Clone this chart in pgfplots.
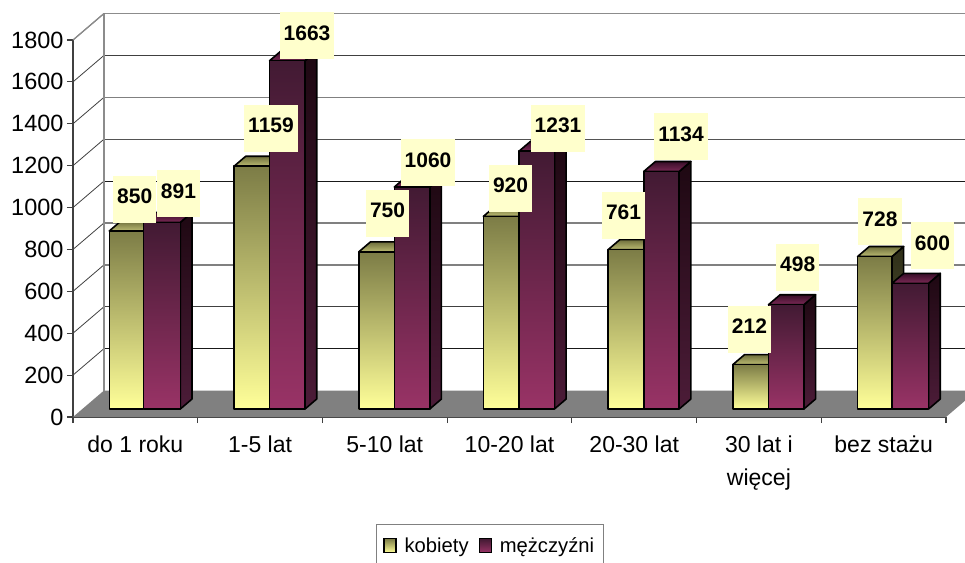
\documentclass[border=0pt]{standalone}
\usepackage{fontspec}
\setmainfont{Liberation Sans}
\usepackage{pgfplots}
\pgfplotsset{compat=1.18}
\definecolor{yfb}{HTML}{FFFF99}
\definecolor{yft}{HTML}{7C7C46}
\definecolor{ysb}{HTML}{66663D}
\definecolor{yst}{HTML}{2E2E18}
\definecolor{ytb}{HTML}{BDBD73}
\definecolor{ytt}{HTML}{6E6E3C}
\definecolor{mfb}{HTML}{993366}
\definecolor{mft}{HTML}{421A33}
\definecolor{msb}{HTML}{4C1C38}
\definecolor{mst}{HTML}{1E0812}
\definecolor{mtb}{HTML}{7C2A56}
\definecolor{mtt}{HTML}{380E28}
\definecolor{lab}{HTML}{FFFFCC}
\definecolor{flr}{HTML}{808080}
\definecolor{wal}{HTML}{8C8C8C}
\definecolor{axl}{HTML}{404040}
% #1 category, #2 offset of left edge, #3 offset of right edge, #4 value, #5 colour stem (y or m)
\newcommand{\tdbar}[5]{%
  \pgfmathsetmacro\xa{#1+#2}\pgfmathsetmacro\xb{#1+#3}%
  \pgfmathsetmacro\xc{\xb+0.0938}\pgfmathsetmacro\xd{\xa+0.0938}%
  \pgfmathsetmacro\ya{38.2}\pgfmathsetmacro\yb{38.2+#4}%
  \pgfmathsetmacro\yc{\ya+47.7}\pgfmathsetmacro\yd{\yb+47.7}%
  \addplot[forget plot,sharp plot,no marks,draw=black,line width=1.6pt,line join=round,
     top color=#5st,bottom color=#5sb] coordinates {(\xb,\ya)(\xc,\yc)(\xc,\yd)(\xb,\yb)} --cycle;
  \addplot[forget plot,sharp plot,no marks,draw=black,line width=1.6pt,line join=round,
     top color=#5tt,bottom color=#5tb] coordinates {(\xa,\yb)(\xb,\yb)(\xc,\yd)(\xd,\yd)} --cycle;
  \addplot[forget plot,sharp plot,no marks,draw=black,line width=1.6pt,line join=round,
     top color=#5ft,bottom color=#5fb] coordinates {(\xa,\ya)(\xb,\ya)(\xb,\yb)(\xa,\yb)} --cycle;
}
% #1 level, #2 colour, #3 width
\newcommand{\gl}[3]{%
  \pgfmathsetmacro\yw{#1+126.5}%
  \addplot[forget plot,sharp plot,no marks,draw=#2,line width=#3] coordinates {(0.2486,\yw)(7.153,\yw)};
  \addplot[forget plot,sharp plot,no marks,draw=axl,line width=0.8pt] coordinates {(0,#1)(0.2486,\yw)};
}
\begin{document}
\begin{tikzpicture}
\useasboundingbox (-73pt,-145pt) rectangle (892pt,417pt);
\begin{axis}[
  scale only axis,width=873pt,height=377pt,
  xmin=0,xmax=7,ymin=0,ymax=1800,clip=false,
  axis lines=left,axis line style={-,draw=axl,line width=1.3pt},
  tick style={draw=axl,line width=1.1pt},tick align=outside,
  major tick length=6pt,
  ytick={0,200,...,1800},
  xtick={0,1,...,7},x tick label as interval,
  xticklabels={do 1 roku,1-5 lat,5-10 lat,10-20 lat,20-30 lat,{30 lat i\\więcej},bez stażu},
  xticklabel style={align=center,font=\fontsize{23}{33}\selectfont,yshift=-9pt},
  yticklabel style={font=\fontsize{23.5}{26}\selectfont},
  /pgf/number format/assume math mode=true,
  /pgf/number format/1000 sep={},
  legend columns=2,
  legend style={at={(0.347,-0.2838)},anchor=north west,draw=gray,line width=1pt,
    inner xsep=7pt,inner ysep=11pt,font=\fontsize{20.2}{24}\selectfont,
    /tikz/every odd column/.append style={column sep=6pt},
    /tikz/every even column/.append style={column sep=8pt}},
]
% floor
\addplot[forget plot,sharp plot,no marks,draw=none,fill=flr] coordinates {(0,0)(0.2486,126.5)(7.153,126.5)(7.153,77.9)(7,0)} --cycle;
% back wall edge and grid
\gl{200}{black!90}{1pt}\gl{400}{axl}{1.1pt}\gl{600}{flr}{1.5pt}\gl{800}{flr}{1.5pt}\gl{1000}{black!90}{1pt}\gl{1200}{axl!70!gray}{1.2pt}\gl{1400}{flr}{1.5pt}\gl{1600}{axl}{1.1pt}\gl{1800}{wal}{1.5pt}
\addplot[forget plot,sharp plot,no marks,draw=wal,line width=1.8pt] coordinates {(0.2486,126.5)(0.2486,1926.5)};
\addplot[forget plot,sharp plot,no marks,draw=wal,line width=1.3pt] coordinates {(0,1800)(0.2486,1926.5)};
% bars
\tdbar{0}{0.2911}{0.5667}{850}{y}\tdbar{0}{0.5667}{0.8604}{891}{m}
\tdbar{1}{0.2911}{0.5765}{1159}{y}\tdbar{1}{0.5765}{0.8604}{1663}{m}
\tdbar{2}{0.2911}{0.5765}{750}{y}\tdbar{2}{0.5765}{0.8604}{1060}{m}
\tdbar{3}{0.2911}{0.5765}{920}{y}\tdbar{3}{0.5765}{0.8604}{1231}{m}
\tdbar{4}{0.2911}{0.5765}{761}{y}\tdbar{4}{0.5765}{0.8604}{1134}{m}
\tdbar{5}{0.2911}{0.5765}{212}{y}\tdbar{5}{0.5765}{0.8604}{498}{m}
\tdbar{6}{0.2911}{0.5667}{728}{y}\tdbar{6}{0.5667}{0.8604}{600}{m}
% data labels
\addplot[forget plot,only marks,mark size=0pt,
  point meta=explicit symbolic,
  visualization depends on={\thisrow{ox} \as \ox},
  visualization depends on={\thisrow{oy} \as \oy},
  nodes near coords,
  every node near coord/.append style={anchor=center,xshift=\ox pt,yshift=\oy pt,fill=lab,
     inner xsep=4pt,inner ysep=0pt,minimum height=47pt,text=black,text height=15pt,text depth=6pt,
     font=\fontsize{21}{24}\bfseries},
] table[x=x,y=y,meta=y] {
x y ox oy
0.433 850 7.7 39.7
0.7136 891 16.5 36.4
1.433 1159 19.3 46
1.7136 1663 20.3 33
2.433 750 11.1 46.6
2.7136 1060 16.6 32.3
3.433 920 9.4 36
3.7136 1231 21.9 30.9
4.433 761 -2.3 42.3
4.7136 1134 20.2 42.8
5.433 212 -1.1 43.3
5.7136 498 12.1 45.2
6.433 728 4.7 42.8
6.7136 600 22.2 45.6
};
% legend
\addlegendimage{legend image code/.code={\draw[draw=black,line width=1.2pt,top color=yft,bottom color=yfb] (0pt,-7pt) rectangle (12pt,7pt);}}
\addlegendentry{kobiety}
\addlegendimage{legend image code/.code={\draw[draw=black,line width=1.2pt,top color=mft,bottom color=mfb] (0pt,-7pt) rectangle (12pt,7pt);}}
\addlegendentry{mężczyźni\hspace{8pt}}
\end{axis}
\end{tikzpicture}
\end{document}
